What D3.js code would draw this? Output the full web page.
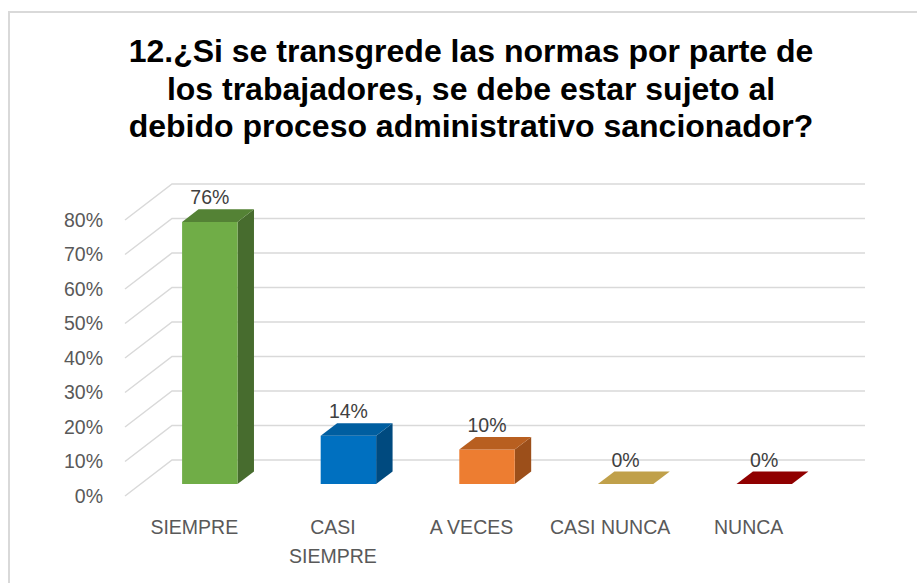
<!DOCTYPE html>
<html>
<head>
<meta charset="utf-8">
<script src="https://cdn.jsdelivr.net/npm/d3@7"></script>
<style>
  body { margin: 0; background: #fff; }
  svg { display: block; }
</style>
</head>
<body>
<div class="chart"></div>
<script>
// Chart data
var categories = ["SIEMPRE", "CASI SIEMPRE", "A VECES", "CASI NUNCA", "NUNCA"];
var values = [0.76, 0.14, 0.10, 0, 0];
var valueLabels = ["76%", "14%", "10%", "0%", "0%"];
var tickValues = [0, 0.1, 0.2, 0.3, 0.4, 0.5, 0.6, 0.7, 0.8];
var titleLines = [
  "12.¿Si se transgrede las normas por parte de",
  "los trabajadores, se debe estar sujeto al",
  "debido proceso administrativo sancionador?"
];

// Colours per bar: front, top, side
var barColors = [
  { front: "#70ad47", top: "#548235", side: "#476c2e" },
  { front: "#0070c0", top: "#005ea0", side: "#004a7f" },
  { front: "#ed7d31", top: "#b85f20", side: "#9c4f1a" },
  { front: "#c5a54d", top: "#c0a04a", side: "#a88a3c" },
  { front: "#930000", top: "#900000", side: "#700000" }
];

var svgWidth = 917;
var svgHeight = 583;

var svg = d3.select(".chart")
  .append("svg")
  .attr("width", svgWidth)
  .attr("height", svgHeight);

// Chart border (goes off the right and bottom edges)
svg.append("rect")
  .attr("x", 9)
  .attr("y", 12)
  .attr("width", 940)
  .attr("height", 600)
  .attr("fill", "none")
  .attr("stroke", "#d9d9d9")
  .attr("stroke-width", 2);

// Title
svg.append("text")
  .attr("text-anchor", "middle")
  .style("font", "bold 32px 'Liberation Sans', Arial, sans-serif")
  .style("fill", "#000")
  .selectAll("tspan")
  .data(titleLines)
  .enter()
  .append("tspan")
  .attr("x", 471)
  .attr("y", function (d, i) { return 62 + i * 37.5; })
  .text(function (d) { return d; });

// Front plane scales + depth offset for the 3D look
var xScale = d3.scaleBand().domain(categories).range([125, 818]);
var yScale = d3.scaleLinear().domain([0, 0.8]).range([496, 220]);
var depthX = 47;
var depthY = -36;

function pt(x, v, d) {
  return [x + depthX * d, yScale(v) + depthY * d];
}

// Gridlines: floor diagonal + back wall line
var grid = svg.append("g");
tickValues.forEach(function (t) {
  var a = pt(xScale.range()[0], t, 0);
  var b = pt(xScale.range()[0], t, 1);
  var c = pt(xScale.range()[1], t, 1);
  grid.append("polyline")
    .attr("points", [a, b, c].map(function (p) { return p.join(","); }).join(" "))
    .attr("fill", "none")
    .attr("stroke", "#d9d9d9")
    .attr("stroke-width", 1.5);
});

// Y axis labels
svg.append("g")
  .selectAll("text")
  .data(tickValues)
  .enter()
  .append("text")
  .attr("x", 103)
  .attr("y", function (d) { return yScale(d); })
  .attr("dy", "0.35em")
  .attr("text-anchor", "end")
  .style("font", "19.5px 'Liberation Sans', Arial, sans-serif")
  .style("fill", "#595959")
  .text(function (d) { return d3.format(".0%")(d); });

// Bars
var d0 = 0.33, d1 = 0.68;
var bars = svg.append("g");
categories.forEach(function (cat, i) {
  var cx = xScale(cat) + xScale.bandwidth() / 2;
  var half = xScale.bandwidth() * 0.2;
  var x0 = cx - half, x1 = cx + half;
  var v = values[i];
  var col = barColors[i];
  function poly(pts, fill) {
    bars.append("polygon")
      .attr("points", pts.map(function (p) { return p.join(","); }).join(" "))
      .attr("fill", fill);
  }
  if (v > 0) {
    // side face
    poly([pt(x1, 0, d0), pt(x1, 0, d1), pt(x1, v, d1), pt(x1, v, d0)], col.side);
    // front face
    poly([pt(x0, 0, d0), pt(x1, 0, d0), pt(x1, v, d0), pt(x0, v, d0)], col.front);
  }
  // top face
  poly([pt(x0, v, d0), pt(x1, v, d0), pt(x1, v, d1), pt(x0, v, d1)], col.top);

  // value label
  var top = pt(x0, v, d1);
  svg.append("text")
    .attr("x", cx + depthX * d0)
    .attr("y", top[1] - 5)
    .attr("text-anchor", "middle")
    .style("font", "19.5px 'Liberation Sans', Arial, sans-serif")
    .style("fill", "#404040")
    .text(valueLabels[i]);
});

// Category labels (wrap "CASI SIEMPRE")
categories.forEach(function (cat) {
  var lines = cat === "CASI SIEMPRE" ? ["CASI", "SIEMPRE"] : [cat];
  var txt = svg.append("text")
    .attr("text-anchor", "middle")
    .style("font", "19.5px 'Liberation Sans', Arial, sans-serif")
    .style("fill", "#595959");
  lines.forEach(function (l, j) {
    txt.append("tspan")
      .attr("x", xScale(cat) + xScale.bandwidth() / 2)
      .attr("y", 534 + j * 29)
      .text(l);
  });
});
</script>
</body>
</html>
